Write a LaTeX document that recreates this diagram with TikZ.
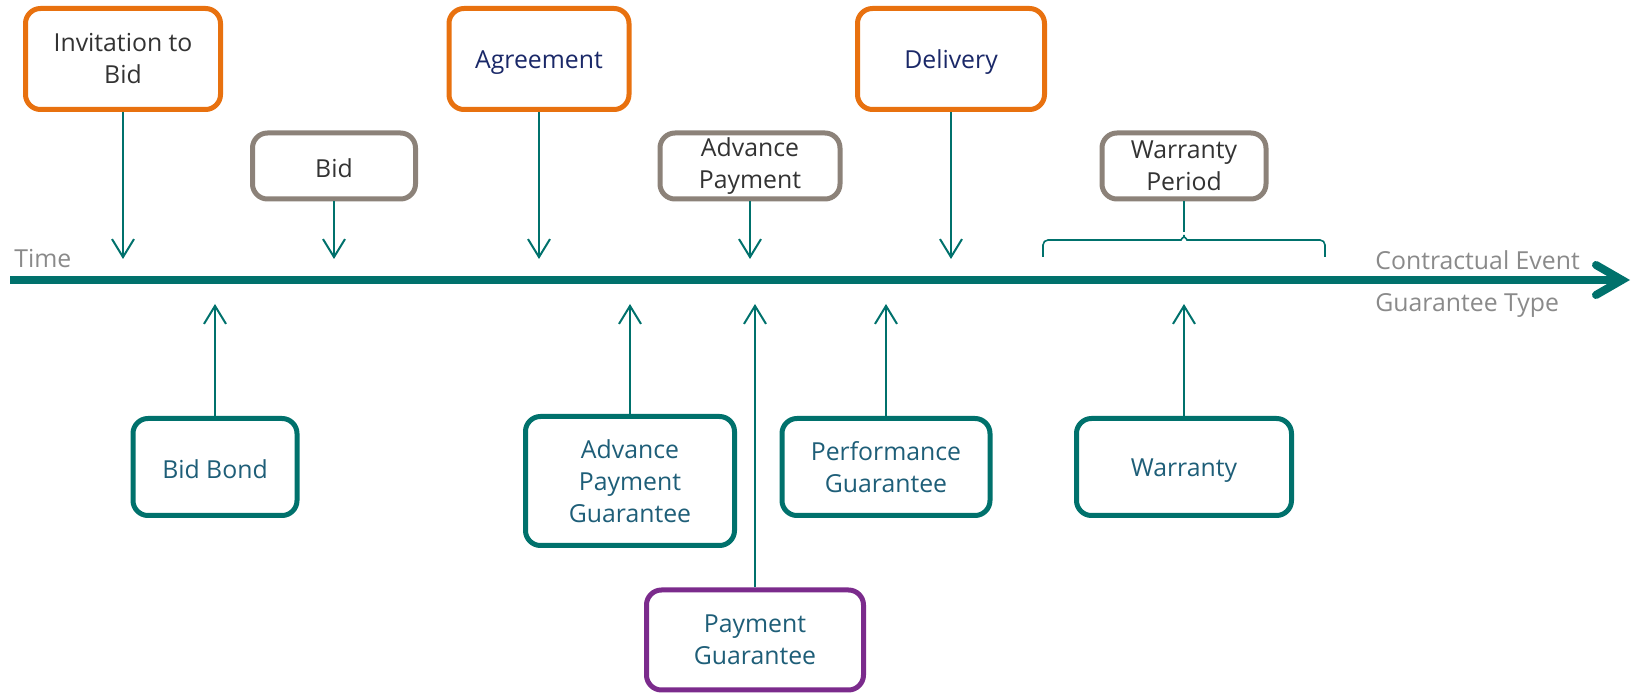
\documentclass[tikz,border=0pt]{standalone}
\usepackage{fontspec}
\setmainfont{Open Sans}
\usetikzlibrary{arrows.meta}
\definecolor{evorange}{HTML}{E8710F}
\definecolor{evgray}{HTML}{8C8279}
\definecolor{gtteal}{HTML}{00716C}
\definecolor{gtpurple}{HTML}{7B2B8C}
\definecolor{txtdark}{HTML}{333333}
\definecolor{txtnavy}{HTML}{1A2868}
\definecolor{txtblue}{HTML}{1E5E78}
\definecolor{axlabel}{HTML}{8A8A8A}

\begin{document}
\begin{tikzpicture}[x=0.5pt,y=-0.5pt,
every node/.style={font=\fontsize{12.4}{16}\selectfont, align=center},
box/.style={rectangle, rounded corners=7.5pt, line width=2.5pt, fill=white, inner sep=0pt,
  execute at begin node={\rule{0pt}{12pt}}},
mainev/.style={box, draw=evorange, text=txtdark},
subev/.style={box, draw=evgray, text=txtdark},
guar/.style={box, draw=gtteal, text=txtblue},
pay/.style={box, draw=gtpurple, text=txtblue},
down/.style={gtteal, line width=1pt, -{Straight Barb[length=9pt,width=11pt]}},
up/.style={gtteal, line width=1pt, -{Straight Barb[length=9pt,width=11pt]}},
axlab/.style={text=axlabel, anchor=base west, inner sep=0pt}
]
\useasboundingbox (0,0) rectangle (1635,694);

\coordinate (tstart) at (10,280);
\coordinate (tend) at (1630,280);
\coordinate (evtip) at (0,259);
\coordinate (gttip) at (0,304);
\draw[gtteal, line width=4pt, -{Straight Barb[length=13pt,width=15pt,line cap=round]}] (tstart) -- (tend);

\node[axlab] (time) at (14,268) {Time};
\node[axlab] (contract) at (1375,270) {Contractual Event};
\node[axlab] (gtype) at (1375,312) {Guarantee Type};

\node[mainev, minimum width=97.5pt, minimum height=50.5pt] (itb) at (123,59) {Invitation to\\Bid};
\node[subev, minimum width=81.5pt, minimum height=33pt] (bid) at (334,166) {Bid};
\node[mainev, text=txtnavy, minimum width=90pt, minimum height=50.5pt] (agree) at (539,59) {Agreement};
\node[subev, minimum width=90pt, minimum height=33pt] (advpay) at (750,166) {Advance\\Payment};
\node[mainev, text=txtnavy, minimum width=93.5pt, minimum height=50.5pt] (delivery) at (951,59) {Delivery};
\node[subev, minimum width=82pt, minimum height=33pt] (wperiod) at (1184,166) {Warranty\\Period};

\draw[down] (itb) -- (itb |- evtip);
\draw[down] (bid) -- (bid |- evtip);
\draw[down] (agree) -- (agree |- evtip);
\draw[down] (advpay) -- (advpay |- evtip);
\draw[down] (delivery) -- (delivery |- evtip);

\coordinate (brtip) at (1184,232);
\draw[gtteal, line width=0.8pt, rounded corners=2.5pt] (1043,257) -- (1043,240) -- (1176,240)
  to[out=0,in=-90] (brtip) to[out=-90,in=180] (1192,240) -- (1325,240) -- (1325,257);
\draw[gtteal, line width=0.8pt] (wperiod) -- (brtip);

\node[guar, minimum width=82pt, minimum height=48.5pt] (bidbond) at (215,467) {Bid Bond};
\node[guar, minimum width=104.5pt, minimum height=64.5pt] (apg) at (630,481) {Advance\\Payment\\Guarantee};
\node[pay, minimum width=108.5pt, minimum height=50pt] (pg) at (755,640) {Payment\\Guarantee};
\node[guar, minimum width=104pt, minimum height=48.5pt] (perf) at (886,467) {Performance\\Guarantee};
\node[guar, minimum width=107.5pt, minimum height=48.5pt] (warr) at (1184,467) {Warranty};

\draw[up] (bidbond) -- (bidbond |- gttip);
\draw[up] (apg) -- (apg |- gttip);
\draw[up] (pg) -- (pg |- gttip);
\draw[up] (perf) -- (perf |- gttip);
\draw[up] (warr) -- (warr |- gttip);
\end{tikzpicture}
\end{document}
